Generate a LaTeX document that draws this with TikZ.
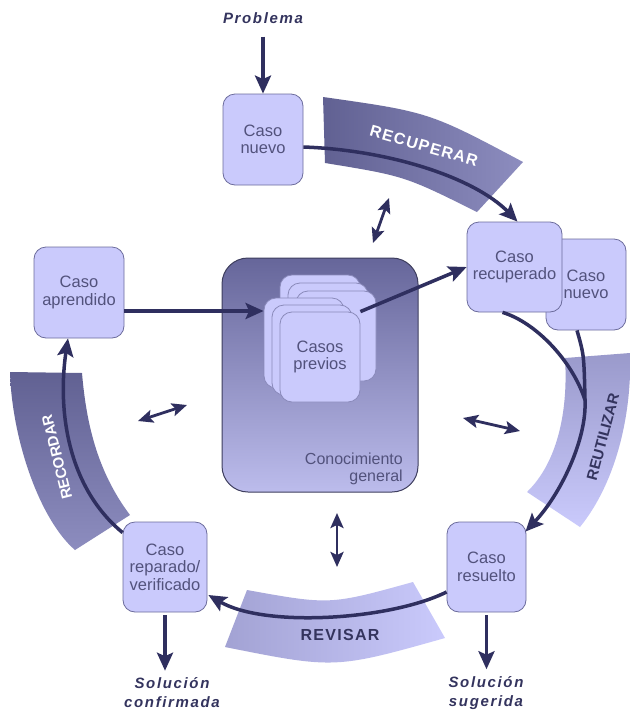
\documentclass[tikz,border=0pt]{standalone}
\usepackage{fontspec}
\setmainfont{Liberation Sans}
\newfontfamily\widefont[LetterSpace=11]{Liberation Sans}
\newfontfamily\midfont[LetterSpace=8]{Liberation Sans}
\usetikzlibrary{arrows.meta,calc}

\definecolor{navy}{HTML}{2F2F5F}
\definecolor{navytext}{HTML}{34345E}
\definecolor{boxfill}{HTML}{CACAFC}
\definecolor{boxline}{HTML}{6C6C9C}
\definecolor{cardline}{HTML}{8A8ABA}
\definecolor{boxtext}{HTML}{52527C}
\definecolor{kbtop}{HTML}{66669A}
\definecolor{kbbot}{HTML}{BCBCEC}
\definecolor{kbline}{HTML}{3E3E5E}

\tikzset{
  bigtip/.tip={Stealth[length=18pt,width=16pt,inset=3.5pt]},
  smalltip/.tip={Stealth[length=15pt,width=13pt,inset=3pt]}
}

\begin{document}
\begin{tikzpicture}[x=1pt,y=-1pt,
  box/.style={draw=boxline, line width=0.8pt, fill=boxfill, rounded corners=12pt,
    inner sep=0pt, align=center, text=boxtext,
    font=\fontsize{16.5}{17.5}\selectfont},
  card/.style={draw=cardline, line width=0.8pt, fill=boxfill, rounded corners=12pt,
    minimum width=80pt, minimum height=90pt, inner sep=0pt, align=center,
    text=boxtext, font=\fontsize{16.5}{17.5}\selectfont},
  flow/.style={draw=navy, line width=3.5pt, -{bigtip}},
  link/.style={draw=navy, line width=2.8pt, {smalltip}-{smalltip}},
  outlabel/.style={text=navytext, align=center, inner sep=1pt,
    font=\widefont\bfseries\itshape\fontsize{15}{19}\selectfont},
  bandtext/.style={inner sep=0pt, font=\bfseries\fontsize{15}{15}\selectfont}
]
\useasboundingbox (0,0) rectangle (630,710);
\fill[white] (0,0) rectangle (630,710);

% ---- phase bands ----
\shade[left color=kbtop!95!black, right color=kbtop!55!kbbot]
  (323,97) .. controls (429,112) .. (523,162) -- (477,212)
  .. controls (404.7,176) .. (325,163) -- cycle;
\shade[top color=kbtop!40!kbbot, bottom color=boxfill]
  (565,358) -- (630,353) .. controls (632,410) and (618,480) .. (580,527)
  -- (527,492) .. controls (560,460) and (568,405) .. cycle;
\shade[left color=kbtop!30!kbbot, right color=boxfill]
  (247,590) .. controls (330,605) .. (413,582) -- (445,638)
  .. controls (335,669) .. (225,647) -- cycle;
\shade[top color=kbtop!95!black, bottom color=kbtop!55!kbbot]
  (10,372) -- (82,373) .. controls (86,420) and (96,470) .. (130,515)
  -- (75,550) .. controls (40,520) and (12,440) .. cycle;

\node[bandtext, text=white, rotate=-16, font=\midfont\bfseries\fontsize{16}{16}\selectfont]
  (trec) at (424,146) {RECUPERAR};
\node[bandtext, text=navytext, rotate=75] (treu) at (603,437) {REUTILIZAR};
\node[bandtext, text=navytext, font=\midfont\bfseries\fontsize{16}{16}\selectfont]
  (trev) at (340,635) {REVISAR};
\node[bandtext, text=white, rotate=104] (trecd) at (57,457) {RECORDAR};

% ---- general knowledge with the case base ----
\node[draw=kbline, line width=1pt, rounded corners=26pt, top color=kbtop,
  bottom color=kbbot, minimum width=196pt, minimum height=234pt]
  (kb) at (320,375) {};
\node[anchor=east, align=right, text=boxtext, inner sep=0pt,
  font=\fontsize{16}{16.5}\selectfont] (kbl) at (403,469) {Conocimiento\\general};

\node[card] (c1) at (320,320) {};
\node[card] (c2) at (328,328) {};
\node[card] (c3) at (336,336) {};
\node[card] (f1) at (304,343) {};
\node[card] (f2) at (312,350) {};
\node[card] (f3) at (320,357) {Casos\\previos};

% ---- cases ----
\node[box, minimum width=80pt, minimum height=91pt] (cn) at (263,139.5) {Caso\\nuevo};
\node[box, minimum width=80pt, minimum height=91pt] (cn2) at (586,284.5) {Caso\\nuevo};
\node[box, minimum width=95pt, minimum height=90pt] (rec) at (514.5,267) {Caso\\recuperado};
\node[box, minimum width=79pt, minimum height=90pt] (res) at (486.5,567) {Caso\\resuelto};
\node[box, minimum width=84pt, minimum height=90pt] (rep) at (165,567) {Caso\\reparado/\\verificado};
\node[box, minimum width=90pt, minimum height=91pt] (apr) at (79,292.5) {Caso\\aprendido};

% ---- inputs and outputs ----
\node[outlabel] (prob) at (263,18) {Problema};
\node[outlabel] (conf) at (172,693) {Solución\\confirmada};
\node[outlabel] (sug) at (486,693) {Solución\\sugerida};

\draw[flow, shorten <=12pt] (prob) -- (cn);
\draw[flow, shorten <=3pt] (rep.south) -- ($(rep.south |- conf.north)+(0,-6)$);
\draw[flow, shorten <=3pt] (res.south) -- ($(res.south |- sug.north)+(0,-6)$);

% ---- the cycle ----
\coordinate (recin) at ($(rec.north)+(3,0)$);
\coordinate (J) at (585,400);
\coordinate (resin) at ($(res.north east)+(-1,10)$);

\draw[flow] ([yshift=-7.5pt]cn.east) .. controls (390,150) and (475,178) .. (recin);
\draw[navy, line width=3.5pt] ($(cn2.south)+(-9,0)$) .. controls (584,355) .. (J);
\draw[flow] ($(rec.south)+(-12,0)$) .. controls (535,322) and (572,360) .. (J)
  .. controls (587,440) and (560,495) .. (resin);
\draw[flow] ($(res.west)+(0,25)$) .. controls (390,620) and (265,628) .. ($(rep.east)+(1,28)$);
\draw[flow] ($(rep.north west)+(0,11)$) .. controls (65,485) and (58,405) .. ($(apr.south)+(-11,0)$);

% ---- links with the knowledge base ----
\coordinate (a1) at ($(apr.east)+(0,18.5)$);
\draw[flow] (a1) -- (a1 -| f1.west);
\draw[flow] (f3.north east) -- (rec.west);

\coordinate (d1a) at (373,243);  \coordinate (d1b) at (389,198);
\coordinate (d2a) at (138,421);  \coordinate (d2b) at (187,405);
\coordinate (d3a) at (463,418);  \coordinate (d3b) at (520,431);
\coordinate (d4a) at (337,513);  \coordinate (d4b) at (337,567);
\draw[link] (d1a) -- (d1b);
\draw[link] (d2a) -- (d2b);
\draw[link] (d3a) -- (d3b);
\draw[link] (d4a) -- (d4b);
\end{tikzpicture}
\end{document}
